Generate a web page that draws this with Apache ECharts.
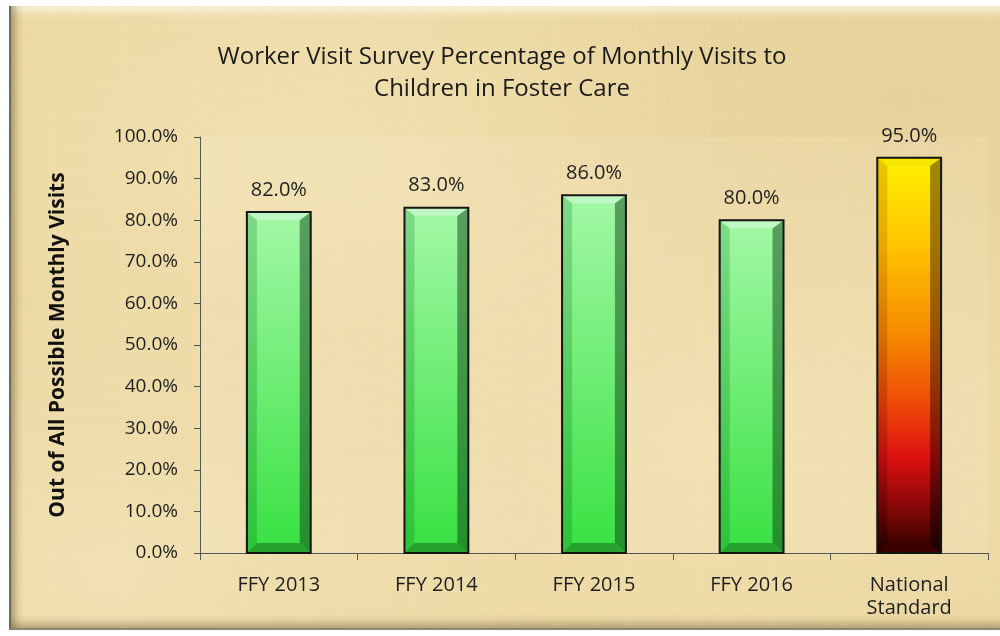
<!DOCTYPE html>
<html>
<head>
<meta charset="utf-8">
<script src="https://cdn.jsdelivr.net/npm/echarts@6/dist/echarts.min.js"></script>
<style>
  html, body { margin:0; padding:0; width:1000px; height:636px; background:#ffffff; overflow:hidden; }
  #frame {
    position:absolute; left:9px; top:6px; width:1000px; height:622px;
    background-color:#ebd8a3;
    background-image:
      radial-gradient(ellipse at 30% 25%, rgba(255,245,205,0.35) 0%, rgba(255,245,205,0) 45%),
      radial-gradient(ellipse at 70% 70%, rgba(255,240,200,0.3) 0%, rgba(255,240,200,0) 50%),
      radial-gradient(ellipse at 10% 90%, rgba(255,245,210,0.35) 0%, rgba(255,245,210,0) 35%),
      radial-gradient(ellipse at 90% 15%, rgba(215,185,120,0.18) 0%, rgba(215,185,120,0) 40%),
      radial-gradient(ellipse at 50% 50%, rgba(225,195,130,0.15) 0%, rgba(225,195,130,0) 60%),
      repeating-linear-gradient(90deg, rgba(200,170,110,0.10) 0px, rgba(200,170,110,0.10) 1px, rgba(0,0,0,0) 1px, rgba(0,0,0,0) 9px),
      repeating-linear-gradient(0deg, rgba(200,170,110,0.08) 0px, rgba(200,170,110,0.08) 1px, rgba(0,0,0,0) 1px, rgba(0,0,0,0) 11px);
    border-left:2px solid #6e6a60;
    border-bottom:2px solid #8d8676;
    box-shadow:
      inset 9px 0 8px -5px rgba(110,90,50,0.55),
      inset 0 12px 8px -7px rgba(255,252,235,0.9),
      inset 0 -10px 8px -5px rgba(120,100,60,0.45);
  }
  #chart { position:absolute; left:0; top:0; width:1000px; height:636px; }
</style>
</head>
<body>
<div id="frame"></div>
<div id="chart"></div>
<script>
var categories = ['FFY 2013', 'FFY 2014', 'FFY 2015', 'FFY 2016', 'National\nStandard'];
var values = [82.0, 83.0, 86.0, 80.0, 95.0];
var yTicks = [0, 10, 20, 30, 40, 50, 60, 70, 80, 90, 100];
var titleLines = ['Worker Visit Survey Percentage of Monthly Visits to', 'Children in Foster Care'];
var yAxisTitle = 'Out of All Possible Monthly Visits';

var FONT = '"Open Sans", Lato, sans-serif';

function lg(stops) {
  return new echarts.graphic.LinearGradient(0, 0, 0, 1, stops);
}

var greenStyle = {
  face: [{offset:0,color:'#a3f8a6'},{offset:1,color:'#38e142'}],
  left: [{offset:0,color:'#7fd987'},{offset:1,color:'#2cc436'}],
  right:[{offset:0,color:'#5a9e60'},{offset:1,color:'#238f2b'}],
  top: '#c0f7c2',
  bottom: '#26a12e'
};
var fireStyle = {
  face: [{offset:0,color:'#fff200'},{offset:0.22,color:'#ffc400'},{offset:0.45,color:'#f58a00'},{offset:0.62,color:'#ef4a08'},{offset:0.76,color:'#dc1010'},{offset:0.9,color:'#7c0606'},{offset:1,color:'#2a0000'}],
  left: [{offset:0,color:'#e8c800'},{offset:0.22,color:'#e8a800'},{offset:0.45,color:'#d87000'},{offset:0.62,color:'#cc3a06'},{offset:0.76,color:'#b80c0c'},{offset:0.9,color:'#5e0404'},{offset:1,color:'#200000'}],
  right:[{offset:0,color:'#a08a00'},{offset:0.22,color:'#a07400'},{offset:0.45,color:'#9a5000'},{offset:0.62,color:'#902a04'},{offset:0.76,color:'#820808'},{offset:0.9,color:'#420202'},{offset:1,color:'#180000'}],
  top: '#f6e600',
  bottom: '#3a0000'
};

function renderBar(params, api) {
  var idx = api.value(0);
  var val = api.value(1);
  var pTop = api.coord([idx, val]);
  var pBase = api.coord([idx, 0]);
  var bw = api.size([1, 0])[0] * 0.405;
  var x0 = pTop[0] - bw / 2, x1 = pTop[0] + bw / 2;
  var y0 = pTop[1], y1 = pBase[1];
  var bl = 10, br = 11, bt = 8, bb = 10;
  var st = categories[params.dataIndex].indexOf('National') === 0 ? fireStyle : greenStyle;
  var h = y1 - y0;
  var children = [
    {type:'rect', shape:{x:x0, y:y0, width:bw, height:h}, style:{fill:lg(st.face)}},
    {type:'polygon', shape:{points:[[x0,y0],[x0+bl,y0+bt],[x0+bl,y1-bb],[x0,y1]]}, style:{fill:lg(st.left)}},
    {type:'polygon', shape:{points:[[x1,y0],[x1-br,y0+bt],[x1-br,y1-bb],[x1,y1]]}, style:{fill:lg(st.right)}},
    {type:'polygon', shape:{points:[[x0,y0],[x1,y0],[x1-br,y0+bt],[x0+bl,y0+bt]]}, style:{fill:st.top}},
    {type:'polygon', shape:{points:[[x0,y1],[x1,y1],[x1-br,y1-bb],[x0+bl,y1-bb]]}, style:{fill:st.bottom}},
    {type:'rect', shape:{x:x0, y:y0, width:bw, height:h}, style:{fill:'none', stroke:'#141414', lineWidth:2}},
    {type:'text', style:{text: val.toFixed(1) + '%', x:pTop[0], y:y0 - 12, textAlign:'center', textVerticalAlign:'bottom', font:'20px ' + FONT, fill:'#1e1e1e'}}
  ];
  return {type:'group', children:children};
}

var chart = echarts.init(document.getElementById('chart'), null, {renderer:'canvas'});
chart.setOption({
  backgroundColor:'transparent',
  animation:false,
  title:[
    {text:titleLines[0], left:497, top:40, textAlign:'center', textStyle:{fontFamily:FONT, fontSize:24, fontWeight:'normal', color:'#1a1a1a'}},
    {text:titleLines[1], left:497, top:72, textAlign:'center', textStyle:{fontFamily:FONT, fontSize:24, fontWeight:'normal', color:'#1a1a1a'}}
  ],
  grid:{left:200, right:12, top:137, bottom:83, show:true, borderWidth:0, backgroundColor:'rgba(255,250,230,0.12)'},
  xAxis:{
    type:'category', data:categories,
    axisLine:{lineStyle:{color:'#555555', width:1}},
    axisTick:{show:true, length:7, lineStyle:{color:'#555555'}},
    axisLabel:{fontFamily:FONT, fontSize:20, color:'#1e1e1e', margin:21, lineHeight:23, interval:0}
  },
  yAxis:{
    type:'value', min:0, max:100, interval:10,
    name:yAxisTitle, nameLocation:'middle', nameGap:131,
    nameTextStyle:{fontFamily:FONT, fontSize:21, fontWeight:'bold', color:'#111111'},
    axisLine:{show:true, lineStyle:{color:'#555555', width:1}},
    axisTick:{show:true, length:6, lineStyle:{color:'#555555'}},
    splitLine:{show:false},
    axisLabel:{fontFamily:FONT, fontSize:19, color:'#1e1e1e', margin:22,
      formatter:function(v){ return yTicks.indexOf(v) >= 0 ? v.toFixed(1) + '%' : ''; }}
  },
  series:[{
    type:'custom',
    renderItem:renderBar,
    encode:{x:0, y:1},
    data:values.map(function(v, i){ return [i, v]; }),
    clip:false
  }]
});
</script>
</body>
</html>
